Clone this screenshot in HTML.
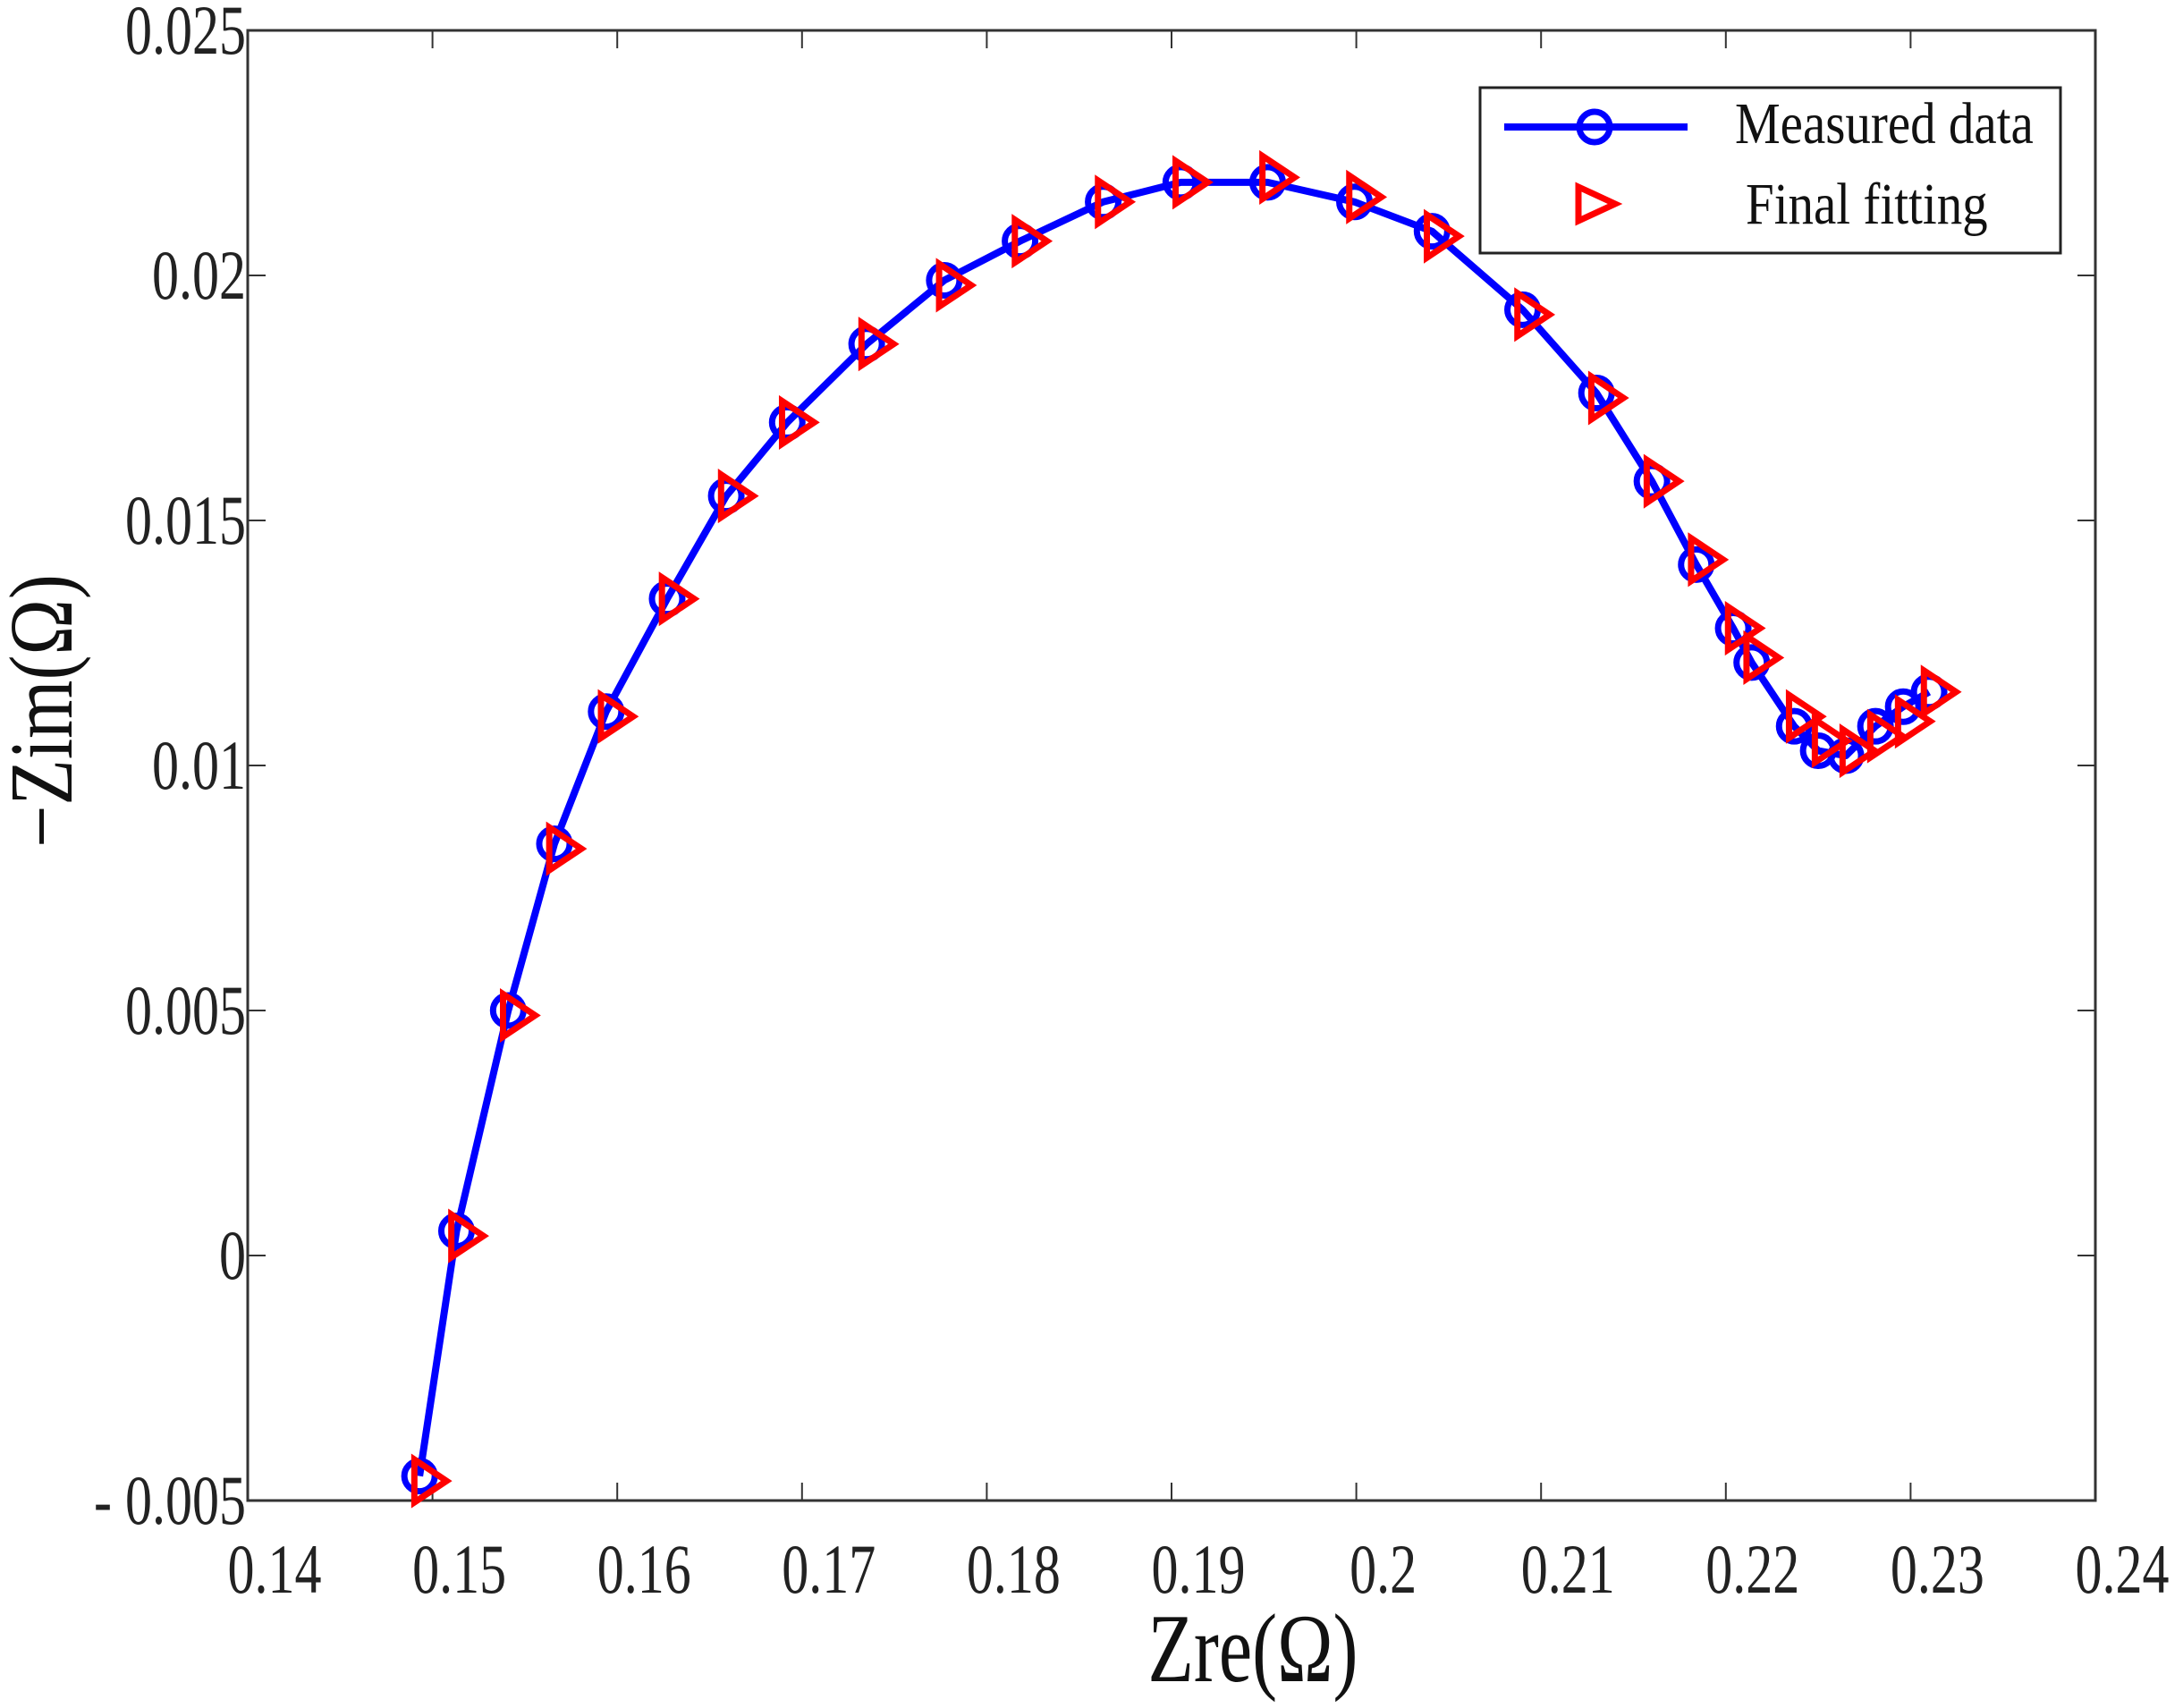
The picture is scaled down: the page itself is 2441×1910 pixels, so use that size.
<!DOCTYPE html>
<html><head><meta charset="utf-8"><style>
html,body{margin:0;padding:0;background:#fff;}
svg{display:block;font-family:"Liberation Serif",serif;}
</style></head><body>
<svg id="chart" width="2441" height="1910" viewBox="0 0 2441 1910" xmlns="http://www.w3.org/2000/svg">
<g id="axes"></g>
<g id="series"></g>
<g id="legend">
  <rect x="1655" y="98" width="649" height="185" fill="#fff" stroke="#222" stroke-width="3"/>
  <line x1="1682" y1="142" x2="1887" y2="142" stroke="#0000ff" stroke-width="8"/>
  <circle cx="1783" cy="142" r="17" fill="none" stroke="#0000ff" stroke-width="7"/>
  <text transform="translate(1940,160) scale(1,1.15)" font-size="57" fill="#111">Measured data</text>
  <polygon points="1765,209 1806,228 1765,247" fill="none" stroke="#ff0000" stroke-width="7" stroke-linejoin="miter"/>
  <text transform="translate(1952,250) scale(1,1.15)" font-size="57" fill="#111">Final fitting</text>
</g>
<text transform="translate(1401,1880) scale(1,1.3)" font-size="84" text-anchor="middle" fill="#111">Zre(Ω)</text>
<text transform="translate(80,795) rotate(-90) scale(1,1.2)" font-size="84" text-anchor="middle" fill="#111">−Zim(Ω)</text>
</svg>
<script>
const xTicks = [0.14,0.15,0.16,0.17,0.18,0.19,0.2,0.21,0.22,0.23,0.24];
const xTickLabels = ["0.14","0.15","0.16","0.17","0.18","0.19","0.2","0.21","0.22","0.23","0.24"];
const yTicks = [-0.005,0,0.005,0.01,0.015,0.02,0.025];
const yTickLabels = ["- 0.005","0","0.005","0.01","0.015","0.02","0.025"];
const measuredZre = [0.1493,0.1513,0.1541,0.1566,0.1594,0.1627,0.1659,0.1692,0.1735,0.1777,0.1818,0.1863,0.1905,0.1952,0.1999,0.2041,0.2090,0.2130,0.2160,0.2184,0.2204,0.2214,0.2237,0.2250,0.2265,0.2281,0.2296,0.2310];
const measuredZim = [-0.0045,0.0005,0.0050,0.0084,0.0111,0.0134,0.0155,0.0170,0.0186,0.0199,0.0207,0.0215,0.0219,0.0219,0.0215,0.0209,0.0193,0.0176,0.0158,0.0141,0.0128,0.0121,0.0108,0.0103,0.0102,0.0108,0.0112,0.0115];
const fitZre = [0.1496,0.1516,0.1544,0.1569,0.1597,0.1630,0.1662,0.1695,0.1738,0.1780,0.1821,0.1866,0.1908,0.1955,0.2002,0.2044,0.2093,0.2133,0.2163,0.2187,0.2207,0.2217,0.2240,0.2254,0.2269,0.2284,0.2299,0.2313];
const fitZim = [-0.0046,0.0004,0.0049,0.0083,0.0110,0.0134,0.0155,0.0170,0.0186,0.0198,0.0207,0.0215,0.0219,0.0220,0.0216,0.0208,0.0192,0.0175,0.0158,0.0142,0.0128,0.0122,0.0110,0.0105,0.0103,0.0106,0.0109,0.0115];

const NS="http://www.w3.org/2000/svg";
const L=277,R=2343,T=34,B=1678;
const xMin=0.14,xMax=0.24,yMin=-0.005,yMax=0.025;
const sx=v=>L+(v-xMin)/(xMax-xMin)*(R-L);
const sy=v=>B-(v-yMin)/(yMax-yMin)*(B-T);
function mk(tag,attrs,parent){const e=document.createElementNS(NS,tag);for(const k in attrs)e.setAttribute(k,attrs[k]);parent.appendChild(e);return e;}
const axes=document.getElementById('axes');
const series=document.getElementById('series');

const frame=mk('rect',{x:L,y:T,width:R-L,height:B-T,fill:'none',stroke:'#333','stroke-width':3},axes);



xTicks.forEach((v,i)=>{
  const x=sx(v);
  const t1=mk('line',{x1:x,y1:B,x2:x,y2:B-20,stroke:'#333','stroke-width':2},axes);
  
  
  const t2=mk('line',{x1:x,y1:T,x2:x,y2:T+20,stroke:'#333','stroke-width':2},axes);
  
  
  const tx=mk('text',{transform:'translate('+(x+30)+',1781) scale(1,1.3)','font-size':60,'text-anchor':'middle',fill:'#222'},axes);
  tx.textContent=xTickLabels[i];
  
  
});
yTicks.forEach((v,i)=>{
  const y=sy(v);
  const t1=mk('line',{x1:L,y1:y,x2:L+20,y2:y,stroke:'#333','stroke-width':2},axes);
  
  
  const t2=mk('line',{x1:R,y1:y,x2:R-20,y2:y,stroke:'#333','stroke-width':2},axes);
  
  
  const tx=mk('text',{transform:'translate('+(L-2)+','+(y+26)+') scale(1,1.3)','font-size':60,'text-anchor':'end',fill:'#222'},axes);
  tx.textContent=yTickLabels[i];
  
  
});

const pts=measuredZre.map((v,i)=>sx(v)+','+sy(measuredZim[i])).join(' ');
const line=mk('polyline',{points:pts,fill:'none',stroke:'#0000ff','stroke-width':8,'stroke-linejoin':'round'},series);


measuredZre.forEach((v,i)=>{
  const c=mk('circle',{cx:sx(v),cy:sy(measuredZim[i]),r:17,fill:'none',stroke:'#0000ff','stroke-width':7},series);
  
  
});
fitZre.forEach((v,i)=>{
  const x=sx(v),y=sy(fitZim[i]);
  const p=mk('polygon',{points:(x-12)+','+(y-24)+' '+(x+24)+','+y+' '+(x-12)+','+(y+24),fill:'none',stroke:'#ff0000','stroke-width':7},series);
  
  
});
</script>
</body></html>
